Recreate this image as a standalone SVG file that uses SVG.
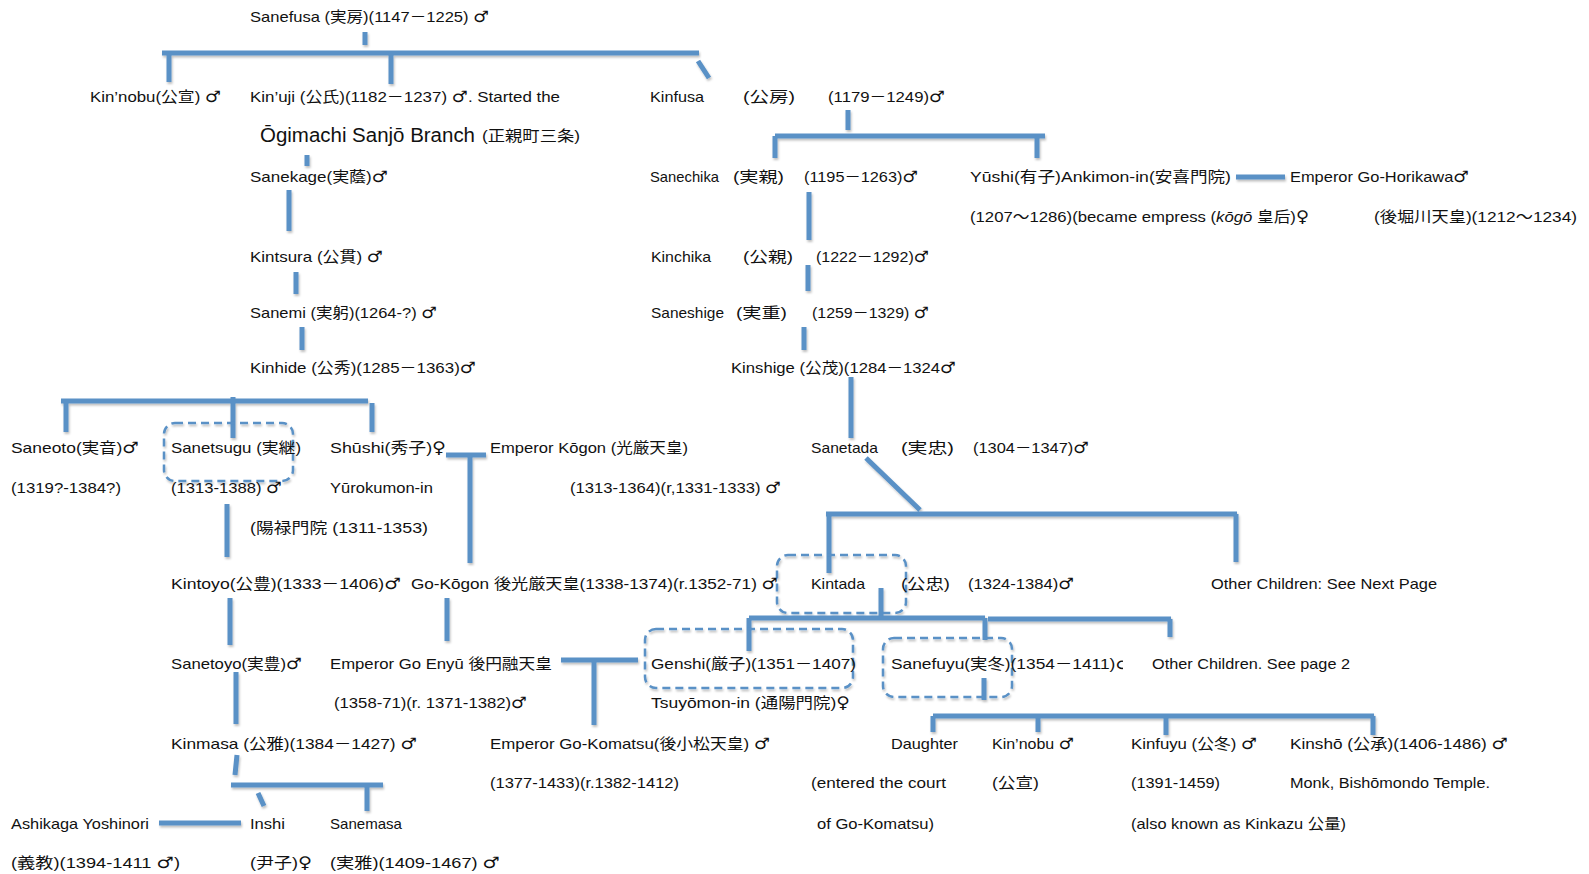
<svg xmlns="http://www.w3.org/2000/svg" width="1589" height="874" viewBox="0 0 1589 874">
<defs>
<style>
text{font-family:"Liberation Sans","Noto Sans CJK JP",sans-serif;font-size:15px;fill:#111}
.big{font-size:20px}
.g{font-family:"DejaVu Sans",sans-serif;font-size:16px}
.ln{stroke:#5a91c6;stroke-width:5;fill:none}
.box{stroke:#5a91c6;stroke-width:2.5;fill:none;stroke-dasharray:8 5}
</style>
<filter id="sh" x="-10%" y="-10%" width="120%" height="140%">
<feDropShadow dx="1" dy="2" stdDeviation="1.2" flood-color="#000" flood-opacity="0.25"/>
</filter>
<clipPath id="cf"><rect x="880" y="640" width="243" height="40"/></clipPath>
</defs>
<rect width="1589" height="874" fill="#fff"/>

<g id="connectors" filter="url(#sh)">
<path class="ln" d="M365 32V45M162 53H699M169 53V82M391 53V84M698 61L709 78"/>
<path class="ln" d="M848 110V130M775 136H1045M775 136V158M1037 136V158M1236 177H1285"/>
<path class="ln" d="M307 155V166M289 190V231M296 272V294M302 327V350"/>
<path class="ln" d="M61 401H368M66 401V432M233 397V438M372 403V432"/>
<path class="ln" d="M809 192V240M808 265V291M804 327V350M851 377V438"/>
<path class="ln" d="M866 458L920 510M826 514H1237M829 514V573M1236 514V562"/>
<path class="ln" d="M446 455H486M470 455V563M227 504V557M230 598V645M447 598V641"/>
<path class="ln" d="M561 660H638M594 660V725M236 672V724M237 755L235 775M231 785H383M258 793L264 806M367 785V811M159 823H241"/>
<path class="ln" d="M881 588V617M749 618H985M749 618V651M985 618V640M988 619H1171M1170 619V637"/>
<path class="ln" d="M984 678V700M933 716H1374M933 716V732M1038 716V732M1166 716V735M1373 716V735"/>
<rect class="box" x="164" y="423" width="129" height="58" rx="11"/>
<rect class="box" x="777" y="555" width="129" height="58" rx="11"/>
<rect class="box" x="645" y="629" width="208" height="59" rx="11"/>
<rect class="box" x="883" y="638" width="129" height="59" rx="11"/>
</g>

<g id="sanefusa"><text x="250" y="21.5" textLength="239" lengthAdjust="spacingAndGlyphs">Sanefusa (実房)(1147－1225) <tspan class="g">♂</tspan></text></g>
<g id="kinnobu1"><text x="90" y="101.5" textLength="131" lengthAdjust="spacingAndGlyphs">Kin’nobu(公宣) <tspan class="g">♂</tspan></text></g>
<g id="kinuji"><text x="250" y="101.5" textLength="310" lengthAdjust="spacingAndGlyphs">Kin’uji (公氏)(1182－1237) <tspan class="g">♂</tspan>. Started the</text>
<text class="big" x="260" y="142" textLength="215" lengthAdjust="spacingAndGlyphs">Ōgimachi Sanjō Branch</text>
<text x="482" y="141" textLength="98" lengthAdjust="spacingAndGlyphs">(正親町三条)</text></g>
<g id="kinfusa"><text x="650" y="101.5" textLength="54" lengthAdjust="spacingAndGlyphs">Kinfusa</text><text x="743" y="101.5" textLength="52" lengthAdjust="spacingAndGlyphs">(公房)</text><text x="828" y="101.5" textLength="117" lengthAdjust="spacingAndGlyphs">(1179－1249)<tspan class="g">♂</tspan></text></g>
<g id="sanekage"><text x="250" y="181.5" textLength="138" lengthAdjust="spacingAndGlyphs">Sanekage(実蔭)<tspan class="g">♂</tspan></text></g>
<g id="sanechika"><text x="650" y="181.5" textLength="69" lengthAdjust="spacingAndGlyphs">Sanechika</text><text x="733" y="181.5" textLength="51" lengthAdjust="spacingAndGlyphs">(実親)</text><text x="804" y="181.5" textLength="114" lengthAdjust="spacingAndGlyphs">(1195－1263)<tspan class="g">♂</tspan></text></g>
<g id="yushi"><text x="970" y="181.5" textLength="261" lengthAdjust="spacingAndGlyphs">Yūshi(有子)Ankimon-in(安喜門院)</text>
<text x="970" y="221.5" textLength="339" lengthAdjust="spacingAndGlyphs">(1207～1286)(became empress (<tspan font-style="italic">kōgō</tspan> 皇后)<tspan class="g">♀</tspan></text></g>
<g id="gohorikawa"><text x="1290" y="181.5" textLength="179" lengthAdjust="spacingAndGlyphs">Emperor Go-Horikawa<tspan class="g">♂</tspan></text><text x="1374" y="221.5" textLength="203" lengthAdjust="spacingAndGlyphs">(後堀川天皇)(1212～1234)</text></g>
<g id="kintsura"><text x="250" y="261.5" textLength="133" lengthAdjust="spacingAndGlyphs">Kintsura (公貫) <tspan class="g">♂</tspan></text></g>
<g id="kinchika"><text x="651" y="261.5" textLength="60" lengthAdjust="spacingAndGlyphs">Kinchika</text><text x="743" y="261.5" textLength="50" lengthAdjust="spacingAndGlyphs">(公親)</text><text x="816" y="261.5" textLength="113" lengthAdjust="spacingAndGlyphs">(1222－1292)<tspan class="g">♂</tspan></text></g>
<g id="sanemi"><text x="250" y="317.5" textLength="187" lengthAdjust="spacingAndGlyphs">Sanemi (実躬)(1264-?) <tspan class="g">♂</tspan></text></g>
<g id="saneshige"><text x="651" y="317.5" textLength="73" lengthAdjust="spacingAndGlyphs">Saneshige</text><text x="736" y="317.5" textLength="51" lengthAdjust="spacingAndGlyphs">(実重)</text><text x="812" y="317.5" textLength="117" lengthAdjust="spacingAndGlyphs">(1259－1329) <tspan class="g">♂</tspan></text></g>
<g id="kinhide"><text x="250" y="372.5" textLength="226" lengthAdjust="spacingAndGlyphs">Kinhide (公秀)(1285－1363)<tspan class="g">♂</tspan></text></g>
<g id="kinshige"><text x="731" y="372.5" textLength="225" lengthAdjust="spacingAndGlyphs">Kinshige (公茂)(1284－1324<tspan class="g">♂</tspan></text></g>
<g id="saneoto"><text x="11" y="453" textLength="128" lengthAdjust="spacingAndGlyphs">Saneoto(実音)<tspan class="g">♂</tspan></text><text x="11" y="493" textLength="110" lengthAdjust="spacingAndGlyphs">(1319?-1384?)</text></g>
<g id="sanetsugu"><text x="171" y="453" textLength="130" lengthAdjust="spacingAndGlyphs">Sanetsugu (実継)</text><text x="171" y="493" textLength="111" lengthAdjust="spacingAndGlyphs">(1313-1388) <tspan class="g">♂</tspan></text></g>
<g id="shushi"><text x="330" y="453" textLength="116" lengthAdjust="spacingAndGlyphs">Shūshi(秀子)<tspan class="g">♀</tspan></text><text x="330" y="493" textLength="103" lengthAdjust="spacingAndGlyphs">Yūrokumon-in</text><text x="250" y="532.5" textLength="178" lengthAdjust="spacingAndGlyphs">(陽禄門院 (1311-1353)</text></g>
<g id="kogon"><text x="490" y="453" textLength="198" lengthAdjust="spacingAndGlyphs">Emperor Kōgon (光厳天皇)</text><text x="570" y="493" textLength="211" lengthAdjust="spacingAndGlyphs">(1313-1364)(r,1331-1333) <tspan class="g">♂</tspan></text></g>
<g id="sanetada"><text x="811" y="453" textLength="67" lengthAdjust="spacingAndGlyphs">Sanetada</text><text x="901" y="453" textLength="53" lengthAdjust="spacingAndGlyphs">(実忠)</text><text x="973" y="453" textLength="116" lengthAdjust="spacingAndGlyphs">(1304－1347)<tspan class="g">♂</tspan></text></g>
<g id="kintoyo"><text x="171" y="588.5" textLength="230" lengthAdjust="spacingAndGlyphs">Kintoyo(公豊)(1333－1406)<tspan class="g">♂</tspan></text></g>
<g id="gokogon"><text x="411" y="588.5" textLength="367" lengthAdjust="spacingAndGlyphs">Go-Kōgon 後光厳天皇(1338-1374)(r.1352-71) <tspan class="g">♂</tspan></text></g>
<g id="kintada"><text x="811" y="588.5" textLength="54" lengthAdjust="spacingAndGlyphs">Kintada</text><text x="901" y="588.5" textLength="49" lengthAdjust="spacingAndGlyphs">(公忠)</text><text x="968" y="588.5" textLength="106" lengthAdjust="spacingAndGlyphs">(1324-1384)<tspan class="g">♂</tspan></text></g>
<g id="other1"><text x="1211" y="588.5" textLength="226" lengthAdjust="spacingAndGlyphs">Other Children: See Next Page</text></g>
<g id="sanetoyo"><text x="171" y="668.5" textLength="131" lengthAdjust="spacingAndGlyphs">Sanetoyo(実豊)<tspan class="g">♂</tspan></text></g>
<g id="goenyu"><text x="330" y="668.5" textLength="222" lengthAdjust="spacingAndGlyphs">Emperor Go Enyū 後円融天皇</text><text x="334" y="708" textLength="193" lengthAdjust="spacingAndGlyphs">(1358-71)(r. 1371-1382)<tspan class="g">♂</tspan></text></g>
<g id="genshi"><text x="651" y="668.5" textLength="205" lengthAdjust="spacingAndGlyphs">Genshi(厳子)(1351－1407)</text><text x="651" y="708" textLength="199" lengthAdjust="spacingAndGlyphs">Tsuyōmon-in (通陽門院)<tspan class="g">♀</tspan></text></g>
<g id="sanefuyu"><text x="891" y="668.5" clip-path="url(#cf)" textLength="241" lengthAdjust="spacingAndGlyphs">Sanefuyu(実冬)(1354－1411)<tspan class="g">♂</tspan></text></g>
<g id="other2"><text x="1152" y="668.5" textLength="198" lengthAdjust="spacingAndGlyphs">Other Children. See page 2</text></g>
<g id="kinmasa"><text x="171" y="748.5" textLength="246" lengthAdjust="spacingAndGlyphs">Kinmasa  (公雅)(1384－1427) <tspan class="g">♂</tspan></text></g>
<g id="gokomatsu"><text x="490" y="748.5" textLength="280" lengthAdjust="spacingAndGlyphs">Emperor Go-Komatsu(後小松天皇) <tspan class="g">♂</tspan></text><text x="490" y="788" textLength="189" lengthAdjust="spacingAndGlyphs">(1377-1433)(r.1382-1412)</text></g>
<g id="daughter"><text x="891" y="748.5" textLength="67" lengthAdjust="spacingAndGlyphs">Daughter</text><text x="811" y="788" textLength="135" lengthAdjust="spacingAndGlyphs">(entered the court</text><text x="817" y="828.5" textLength="117" lengthAdjust="spacingAndGlyphs">of Go-Komatsu)</text></g>
<g id="kinnobu2"><text x="992" y="748.5" textLength="82" lengthAdjust="spacingAndGlyphs">Kin’nobu <tspan class="g">♂</tspan></text><text x="992" y="788" textLength="47" lengthAdjust="spacingAndGlyphs">(公宣)</text></g>
<g id="kinfuyu"><text x="1131" y="748.5" textLength="126" lengthAdjust="spacingAndGlyphs">Kinfuyu (公冬) <tspan class="g">♂</tspan></text><text x="1131" y="788" textLength="89" lengthAdjust="spacingAndGlyphs">(1391-1459)</text><text x="1131" y="828.5" textLength="215" lengthAdjust="spacingAndGlyphs">(also known as Kinkazu 公量)</text></g>
<g id="kinsho"><text x="1290" y="748.5" textLength="218" lengthAdjust="spacingAndGlyphs">Kinshō (公承)(1406-1486)  <tspan class="g">♂</tspan></text><text x="1290" y="788" textLength="200" lengthAdjust="spacingAndGlyphs">Monk, Bishōmondo Temple.</text></g>
<g id="yoshinori"><text x="11" y="828.5" textLength="138" lengthAdjust="spacingAndGlyphs">Ashikaga Yoshinori</text><text x="11" y="868" textLength="169" lengthAdjust="spacingAndGlyphs">(義教)(1394-1411 <tspan class="g">♂</tspan>)</text></g>
<g id="inshi"><text x="250" y="828.5" textLength="35" lengthAdjust="spacingAndGlyphs">Inshi</text><text x="250" y="868" textLength="62" lengthAdjust="spacingAndGlyphs">(尹子)<tspan class="g">♀</tspan></text></g>
<g id="sanemasa"><text x="330" y="828.5" textLength="72" lengthAdjust="spacingAndGlyphs">Sanemasa</text><text x="330" y="868" textLength="170" lengthAdjust="spacingAndGlyphs">(実雅)(1409-1467) <tspan class="g">♂</tspan></text></g>
</svg>
